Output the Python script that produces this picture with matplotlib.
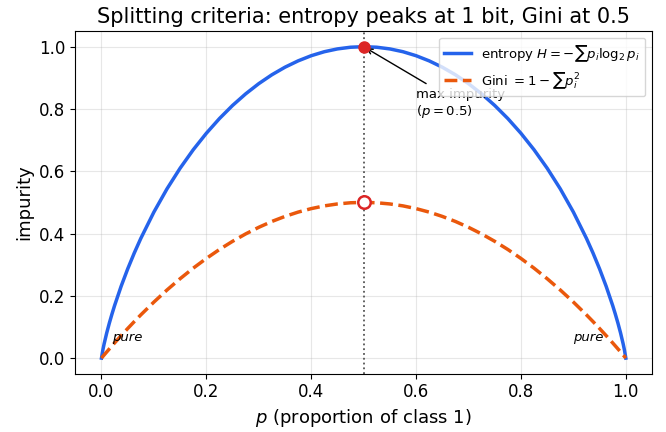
import numpy as np
import matplotlib
matplotlib.use("Agg")
import matplotlib.pyplot as plt

# values
p = [0.0, 0.0025, 0.005, 0.01, 0.015, 0.02, 0.025, 0.0375, 0.05, 0.0625, 0.075, 0.1, 0.125, 0.15,
     0.175, 0.2, 0.225, 0.25, 0.275, 0.3, 0.325, 0.35, 0.375, 0.4, 0.425, 0.45, 0.475, 0.5,
     0.525, 0.55, 0.575, 0.6, 0.625, 0.65, 0.675, 0.7, 0.725, 0.75, 0.775, 0.8, 0.825, 0.85,
     0.875, 0.9, 0.925, 0.9375, 0.95, 0.9625, 0.975, 0.98, 0.985, 0.99, 0.995, 0.9975, 1.0]
entropy = [0.0, 0.0252, 0.0454, 0.0808, 0.1124, 0.1414, 0.1687, 0.2307, 0.2864, 0.3373, 0.3843,
           0.469, 0.5436, 0.6098, 0.669, 0.7219, 0.7692, 0.8113, 0.8485, 0.8813, 0.9098, 0.9341,
           0.9544, 0.971, 0.9838, 0.9928, 0.9982, 1.0,
           0.9982, 0.9928, 0.9838, 0.971, 0.9544, 0.9341, 0.9098, 0.8813, 0.8485, 0.8113, 0.7692,
           0.7219, 0.669, 0.6098, 0.5436, 0.469, 0.3843, 0.3373, 0.2864, 0.2307, 0.1687, 0.1414,
           0.1124, 0.0808, 0.0454, 0.0252, 0.0]
gini = [0.0, 0.005, 0.00995, 0.0198, 0.02955, 0.0392, 0.04875, 0.0722, 0.095, 0.1172, 0.1388,
        0.18, 0.2188, 0.255, 0.2888, 0.32, 0.3488, 0.375, 0.3988, 0.42, 0.4388, 0.455, 0.4688,
        0.48, 0.4888, 0.495, 0.4988, 0.5,
        0.4988, 0.495, 0.4888, 0.48, 0.4688, 0.455, 0.4388, 0.42, 0.3988, 0.375, 0.3488, 0.32,
        0.2888, 0.255, 0.2188, 0.18, 0.1388, 0.1172, 0.095, 0.0722, 0.04875, 0.0392, 0.02955,
        0.0198, 0.00995, 0.005, 0.0]
p_max = 0.5
ent_max = 1.0
gini_max = 0.5

fig, ax = plt.subplots(figsize=(6.66, 4.32), dpi=100)

ax.plot(p, entropy, color='#2563eb', lw=2.5, label=r'entropy $H=-\sum p_i \log_2 p_i$')
ax.plot(p, gini, color='#ea580c', lw=2.5, ls='--', label=r'Gini $=1-\sum p_i^2$')

ax.axvline(p_max, color='#555555', ls=':', lw=1.3)
ax.plot(p_max, ent_max, 'o', color='#dc2626', ms=8, zorder=5)
ax.plot(p_max, gini_max, 'o', mfc='white', mec='#dc2626', mew=1.8, ms=9, zorder=5)

ax.annotate('max impurity\n($p=0.5$)', xy=(p_max, ent_max), xytext=(0.6, 0.78),
            fontsize=9.5, arrowprops=dict(arrowstyle='->', color='black', lw=1))

ax.text(0.02, 0.055, 'pure', style='italic', fontsize=9.5)
ax.text(0.9, 0.055, 'pure', style='italic', fontsize=9.5)

ax.set_xlim(-0.05, 1.05)
ax.set_ylim(-0.05, 1.05)
ax.set_xticks(np.arange(0, 1.01, 0.2))
ax.set_yticks(np.arange(0, 1.01, 0.2))
ax.tick_params(labelsize=12)
ax.grid(alpha=0.3)
ax.set_xlabel(r'$p$ (proportion of class 1)', fontsize=13)
ax.set_ylabel('impurity', fontsize=13)
ax.set_title('Splitting criteria: entropy peaks at 1 bit, Gini at 0.5', fontsize=15)
ax.legend(loc='upper right', fontsize=9.5)

fig.subplots_adjust(left=0.113, right=0.979, top=0.928, bottom=0.135)
fig.savefig('out.png', dpi=100)
